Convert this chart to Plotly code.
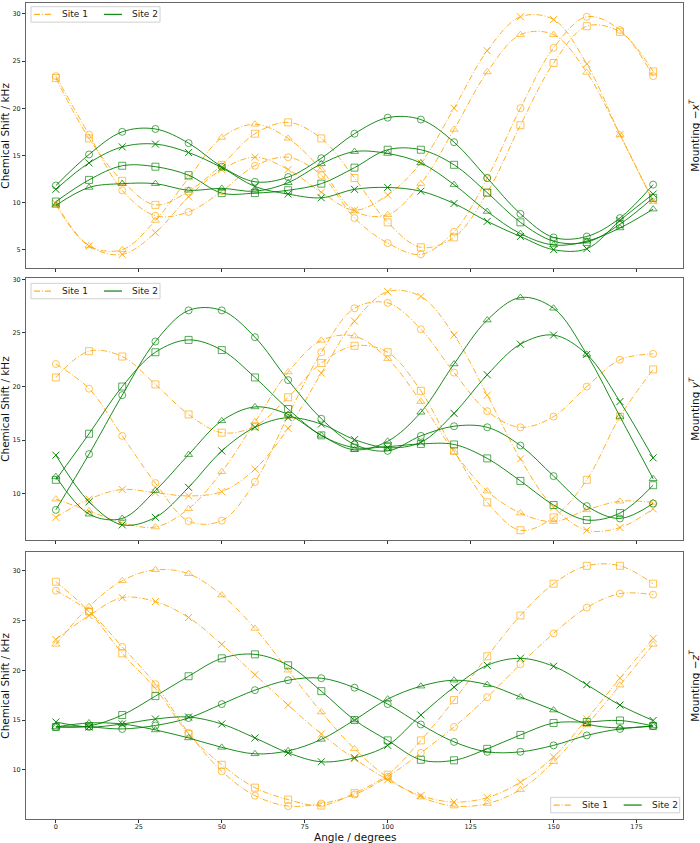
import plotly.graph_objects as go
from plotly.subplots import make_subplots

angles = list(range(0, 181, 10))
xticks = [0, 25, 50, 75, 100, 125, 150, 175]
yticks = [5, 10, 15, 20, 25, 30]
site_names = ["Site 1", "Site 2"]
panel_labels = ["Mounting −<i>x</i><sup><i>T</i></sup>",
                "Mounting <i>y</i><sup><i>T</i></sup>",
                "Mounting −<i>z</i><sup><i>T</i></sup>"]

# Panel 1: Mounting -x^T
p1_s1_circle = [23.4, 17.2, 11.3, 8.6, 9.0, 11.2, 13.9, 14.8, 12.9, 8.35, 5.7, 4.5, 6.9, 12.6, 20.0, 26.4, 29.7, 28.3, 23.4]
p1_s1_square = [23.2, 16.8, 12.3, 9.75, 11.2, 14.0, 17.3, 18.5, 16.8, 12.6, 7.9, 5.25, 6.3, 11.05, 18.2, 24.8, 28.7, 28.1, 23.9]
p1_s1_triangle = [9.8, 5.4, 5.0, 8.1, 12.6, 16.9, 18.3, 16.8, 13.5, 9.1, 8.7, 12.0, 17.75, 23.85, 27.8, 27.8, 23.8, 17.2, 10.1]
p1_s1_x = [9.9, 5.4, 4.5, 6.8, 10.6, 13.5, 14.8, 13.5, 11.1, 9.2, 10.8, 14.2, 20.0, 26.1, 29.7, 29.4, 24.7, 17.2, 10.2]
p1_s2_circle = [11.8, 15.1, 17.5, 17.8, 16.3, 13.8, 12.2, 12.7, 14.7, 17.3, 19.0, 18.8, 16.4, 12.6, 8.8, 6.3, 6.4, 8.35, 11.9]
p1_s2_square = [10.1, 12.4, 13.9, 13.8, 12.9, 11.0, 11.0, 11.3, 12.0, 13.7, 15.6, 15.6, 14.0, 11.05, 7.9, 5.9, 5.8, 7.7, 10.5]
p1_s2_triangle = [9.7, 11.6, 12.0, 12.0, 11.3, 11.5, 11.2, 12.1, 14.1, 15.4, 15.2, 14.2, 11.9, 9.05, 6.7, 5.5, 5.9, 7.3, 9.3]
p1_s2_x = [11.4, 14.2, 15.9, 16.2, 15.3, 13.7, 11.7, 10.9, 10.5, 11.4, 11.6, 11.2, 9.9, 8.0, 6.4, 5.0, 5.1, 8.1, 10.9]

# Panel 2: Mounting y^T
p2_s1_circle = [22.1, 19.8, 15.4, 11.0, 7.45, 7.5, 11.1, 17.3, 23.2, 27.3, 27.8, 25.35, 21.3, 17.7, 16.2, 17.2, 20.0, 22.5, 23.05]
p2_s1_square = [20.85, 23.3, 22.8, 20.2, 17.4, 15.7, 16.3, 19.0, 22.2, 23.8, 23.2, 19.6, 14.0, 9.2, 6.6, 7.8, 11.3, 17.2, 21.6]
p2_s1_triangle = [9.5, 8.4, 7.3, 6.9, 8.6, 12.05, 16.7, 21.35, 24.3, 24.7, 22.6, 18.6, 13.9, 10.25, 8.2, 7.4, 8.5, 9.3, 9.2]
p2_s1_x = [7.8, 9.5, 10.4, 10.1, 9.8, 10.2, 12.3, 16.1, 21.25, 26.1, 28.85, 28.4, 24.8, 19.2, 13.25, 8.75, 6.6, 6.85, 8.6]
p2_s2_circle = [8.5, 13.7, 19.2, 24.2, 27.1, 27.1, 24.6, 20.6, 17.0, 14.6, 14.0, 15.4, 16.3, 16.2, 14.5, 11.65, 8.85, 7.7, 9.1]
p2_s2_square = [11.3, 15.6, 20.0, 23.2, 24.35, 23.4, 20.85, 17.9, 15.45, 14.3, 14.4, 14.65, 14.6, 13.3, 11.2, 8.95, 7.55, 8.2, 10.8]
p2_s2_triangle = [11.6, 8.1, 7.7, 10.3, 13.65, 16.8, 18.1, 17.4, 15.45, 14.1, 14.9, 17.6, 22.1, 26.2, 28.3, 27.3, 23.0, 17.2, 11.4]
p2_s2_x = [13.6, 9.25, 7.1, 7.8, 10.6, 14.0, 16.2, 17.1, 16.5, 15.05, 14.3, 14.8, 17.5, 21.1, 23.95, 24.8, 23.0, 18.6, 13.35]

# Panel 3: Mounting -z^T
p3_s1_circle = [28.0, 25.9, 22.35, 18.6, 13.7, 9.85, 7.4, 6.35, 6.6, 7.5, 9.3, 11.7, 14.3, 17.3, 20.6, 23.7, 26.3, 27.7, 27.6]
p3_s1_square = [28.9, 25.9, 21.7, 18.15, 13.6, 10.5, 8.2, 7.0, 6.4, 7.65, 9.5, 12.95, 17.0, 21.4, 25.5, 28.7, 30.5, 30.5, 28.7]
p3_s1_triangle = [22.6, 26.4, 29.0, 30.1, 29.7, 27.55, 24.2, 20.0, 15.8, 12.1, 9.2, 7.25, 6.35, 6.6, 8.0, 10.8, 14.5, 18.5, 22.6]
p3_s1_x = [23.1, 25.5, 27.3, 26.9, 25.3, 22.6, 19.55, 16.5, 13.6, 11.1, 9.0, 7.4, 6.75, 7.2, 8.75, 11.3, 15.1, 19.2, 23.2]
p3_s2_circle = [14.3, 14.3, 14.1, 14.45, 15.2, 16.6, 18.0, 19.0, 19.2, 18.25, 16.6, 14.55, 12.8, 11.8, 11.8, 12.45, 13.45, 14.1, 14.4]
p3_s2_square = [14.3, 14.4, 15.5, 17.4, 19.4, 21.2, 21.6, 20.5, 17.9, 15.0, 12.95, 11.0, 10.95, 12.1, 13.5, 14.7, 14.8, 14.95, 14.4]
p3_s2_triangle = [14.3, 14.7, 14.6, 14.0, 13.2, 12.25, 11.6, 11.9, 13.05, 15.0, 17.1, 18.4, 19.0, 18.55, 17.3, 16.0, 14.6, 14.2, 14.4]
p3_s2_x = [14.8, 14.3, 14.6, 15.1, 15.3, 14.6, 13.2, 11.7, 10.8, 11.2, 12.45, 15.5, 18.3, 20.5, 21.2, 20.4, 18.55, 16.5, 14.95]

panels = [
    [[p1_s1_circle, p1_s1_square, p1_s1_triangle, p1_s1_x],
     [p1_s2_circle, p1_s2_square, p1_s2_triangle, p1_s2_x]],
    [[p2_s1_circle, p2_s1_square, p2_s1_triangle, p2_s1_x],
     [p2_s2_circle, p2_s2_square, p2_s2_triangle, p2_s2_x]],
    [[p3_s1_circle, p3_s1_square, p3_s1_triangle, p3_s1_x],
     [p3_s2_circle, p3_s2_square, p3_s2_triangle, p3_s2_x]],
]

symbols = ["circle-open", "square-open", "triangle-up-open", "x-thin-open"]
line_colors = ["rgba(255,165,0,0.85)", "rgba(0,128,0,0.9)"]
marker_colors = ["rgba(255,165,0,0.65)", "rgba(0,128,0,0.65)"]
x_colors = ["rgba(255,165,0,0.9)", "rgba(0,128,0,0.95)"]
dashes = ["6px,2px,1px,2px", "solid"]
FONT = "DejaVu Sans"

W, H = 700, 843
ML, MR, MT, MB = 26, 17, 1, 24
PW, PH = W - ML - MR, H - MT - MB


def px(x):
    return (x - ML) / PW


def py(y):
    return (H - MB - y) / PH


fig = make_subplots(rows=3, cols=1, shared_xaxes=True, vertical_spacing=0.02)

for r, panel in enumerate(panels):
    for s, series in enumerate(panel):
        for m, vals in enumerate(series):
            mc = x_colors[s] if m == 3 else marker_colors[s]
            fig.add_trace(go.Scatter(
                x=angles, y=vals, mode="lines+markers",
                name=site_names[s],
                line=dict(shape="spline", color=line_colors[s], width=1, dash=dashes[s]),
                marker=dict(symbol=symbols[m], size=7, color=mc,
                            line=dict(color=mc, width=1)),
                showlegend=False, hoverinfo="skip"), row=r + 1, col=1)

for i in range(1, 4):
    fig.update_xaxes(range=[-9, 189], tickvals=xticks, ticks="outside", ticklen=3,
                     tickcolor="#333", showline=True, mirror=True, linecolor="#666",
                     linewidth=1, showgrid=False, zeroline=False, ticklabelstandoff=-2,
                     tickfont=dict(size=6.5, color="#222", family=FONT), row=i, col=1)
    fig.update_yaxes(tickvals=yticks, ticks="outside", ticklen=3, tickcolor="#333",
                     showline=True, mirror=True, linecolor="#666", linewidth=1,
                     showgrid=False, zeroline=False,
                     tickfont=dict(size=6.5, color="#222", family=FONT), row=i, col=1)

fig.update_layout(
    yaxis=dict(domain=[py(267), 1.0], range=[3.02, 31.16]),
    yaxis2=dict(domain=[py(539), py(276.7)], range=[5.72, 30.12]),
    yaxis3=dict(domain=[0.0, py(551.7)], range=[5.05, 31.85]),
)

# Legend boxes (Site 1 dash-dot orange, Site 2 solid green), drawn as
# shapes + real text annotations to match the compact matplotlib legend.
shapes = []
annotations = []
legend_boxes = [(31, 4.7), (31, 282), (550.7, 797.3)]
for (bx, by) in legend_boxes:
    bw, bh = 129, 15.5
    shapes.append(dict(type="rect", xref="paper", yref="paper",
                       x0=px(bx), x1=px(bx + bw), y0=py(by + bh), y1=py(by),
                       line=dict(color="#d0d0d0", width=1),
                       fillcolor="rgba(255,255,255,0.85)", layer="above"))
    cy = by + bh / 2
    offsets = [(3, 29), (73, 99)]
    for s in range(2):
        lx0 = bx + offsets[s][0]
        shapes.append(dict(type="line", xref="paper", yref="paper",
                           x0=px(lx0), x1=px(lx0 + 18), y0=py(cy), y1=py(cy),
                           line=dict(color=line_colors[s], width=1.3, dash=dashes[s]),
                           layer="above"))
        annotations.append(dict(text=site_names[s], xref="paper", yref="paper",
                                x=px(bx + offsets[s][1]), y=py(cy),
                                xanchor="left", yanchor="middle", showarrow=False,
                                font=dict(size=9, family=FONT, color="#222")))

centers = [(1.0 + py(267)) / 2, (py(539) + py(276.7)) / 2, py(551.7) / 2]
for r in range(3):
    annotations.append(dict(text="Chemical Shift / kHz", xref="paper", yref="paper",
                            x=px(5), y=centers[r], xanchor="center", yanchor="middle",
                            textangle=-90, showarrow=False,
                            font=dict(size=10.5, family=FONT, color="#111")))
    annotations.append(dict(text=panel_labels[r], xref="paper", yref="paper",
                            x=px(694), y=centers[r], xanchor="center", yanchor="middle",
                            textangle=-90, showarrow=False,
                            font=dict(size=10.5, family=FONT, color="#111")))
annotations.append(dict(text="Angle / degrees", xref="paper", yref="paper",
                        x=0.5, y=py(837), xanchor="center", yanchor="middle",
                        showarrow=False, font=dict(size=10.5, family=FONT, color="#111")))

fig.update_layout(
    width=W, height=H,
    margin=dict(l=ML, r=MR, t=MT, b=MB),
    paper_bgcolor="white", plot_bgcolor="white",
    font=dict(family=FONT),
    shapes=shapes,
    annotations=annotations,
    showlegend=False,
)

fig.write_html("out.html")
